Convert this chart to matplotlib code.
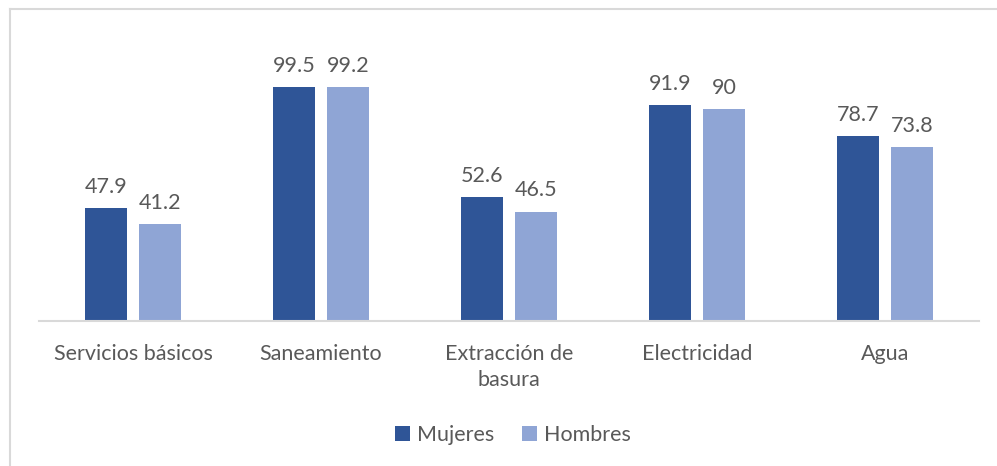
import numpy as np
import matplotlib.pyplot as plt
from matplotlib.lines import Line2D

# datos
categorias = ['Servicios básicos', 'Saneamiento', 'Extracción de\nbasura', 'Electricidad', 'Agua']
mujeres = [47.9, 99.5, 52.6, 91.9, 78.7]
hombres = [41.2, 99.2, 46.5, 90, 73.8]
etiquetas_mujeres = ['47.9', '99.5', '52.6', '91.9', '78.7']
etiquetas_hombres = ['41.2', '99.2', '46.5', '90', '73.8']

color_m = '#2F5597'
color_h = '#8FA5D5'
gris = '#595959'
fs = 15.5

plt.rcParams['font.family'] = ['Lato', 'DejaVu Sans']

W, H = 997, 466
fig = plt.figure(figsize=(W / 100, H / 100), dpi=100)
# plot area: x 39..979, baseline y=321, top y=62
ax = fig.add_axes([39 / W, 1 - 321 / H, 940 / W, (321 - 62) / H])

x = np.arange(len(categorias))
ancho = 0.223
desp = 0.1436
b1 = ax.bar(x - desp, mujeres, ancho, color=color_m, label='Mujeres')
b2 = ax.bar(x + desp, hombres, ancho, color=color_h, label='Hombres')

for barras, etiquetas in ((b1, etiquetas_mujeres), (b2, etiquetas_hombres)):
    for b, t in zip(barras, etiquetas):
        ax.annotate(t, (b.get_x() + b.get_width() / 2, b.get_height()),
                    xytext=(0, 8), textcoords='offset points',
                    ha='center', va='bottom', fontsize=fs, color=gris)

ax.set_xlim(-0.5, len(categorias) - 0.5)
ax.set_ylim(0, 110)
ax.set_xticks(x)
ax.set_xticklabels(categorias, fontsize=fs, color=gris, va='top', linespacing=1.4)
ax.tick_params(axis='x', length=0, pad=16.5)
ax.set_yticks([])
for s in ('top', 'right', 'left'):
    ax.spines[s].set_visible(False)
ax.spines['bottom'].set_color('#D9D9D9')
ax.spines['bottom'].set_linewidth(1.5)

fig.legend(handles=[b1, b2], labels=['Mujeres', 'Hombres'], loc='center',
           bbox_to_anchor=(513 / W, 1 - 435 / H), ncol=2, frameon=False,
           fontsize=fs, labelcolor=gris, handlelength=0.7, handleheight=0.7,
           handletextpad=0.3, columnspacing=1.3)

# borde del gráfico (solo superior e izquierdo visibles)
fig.add_artist(Line2D([10 / W, 10 / W], [0, 1 - 9 / H], color='#D9D9D9', lw=1.5))
fig.add_artist(Line2D([10 / W, 1], [1 - 9 / H, 1 - 9 / H], color='#D9D9D9', lw=1.5))

fig.savefig('out.png', dpi=100)
